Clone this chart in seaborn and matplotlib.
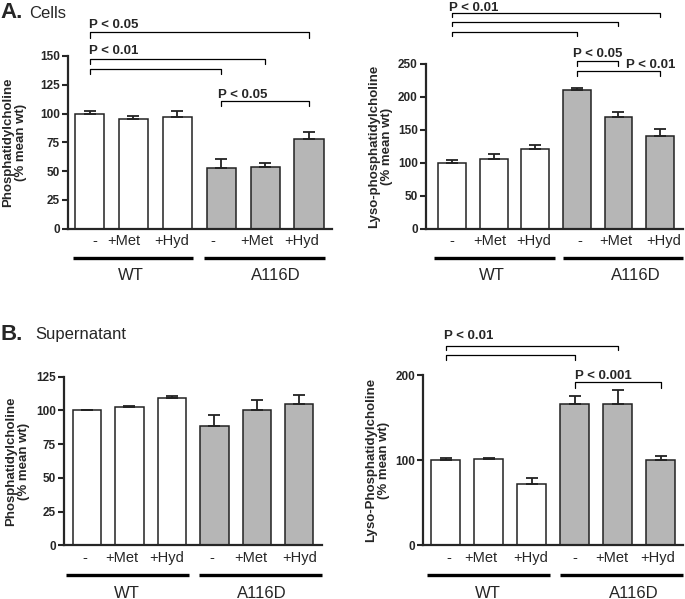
import numpy as np
import pandas as pd
import matplotlib
matplotlib.use("Agg")
import matplotlib.pyplot as plt
import matplotlib.transforms as mtrans
import seaborn as sns

# ---------------- data ----------------
genotypes = ["WT", "A116D"]
treatments = ["-", "+Met", "+Hyd"]

pc_cells = [100.0, 95.0, 97.3, 52.4, 53.3, 77.6]
pc_cells_err = [2.0, 3.2, 4.7, 8.1, 3.5, 6.7]

lpc_cells = [100.0, 105.5, 121.0, 210.5, 170.0, 140.7]
lpc_cells_err = [4.0, 8.0, 5.5, 3.5, 7.6, 11.1]

pc_sup = [100.0, 102.3, 109.4, 88.2, 100.0, 104.5]
pc_sup_err = [0.0, 1.2, 1.0, 8.1, 8.0, 6.9]

lpc_sup = [100.0, 101.2, 71.8, 166.7, 166.7, 100.0]
lpc_sup_err = [3.2, 1.2, 7.0, 9.0, 15.7, 4.8]

ylabels = ["Phosphatidylcholine\n(% mean wt)",
           "Lyso-phosphatidylcholine\n(% mean wt)",
           "Phosphatidylcholine\n(% mean wt)",
           "Lyso-Phosphatidylcholine\n(% mean wt)"]

pvals_pc_cells = ["P < 0.05", "P < 0.01", "P < 0.05"]
pvals_lpc_cells = ["P < 0.01", "P < 0.05", "P < 0.01"]
pvals_pc_sup = []
pvals_lpc_sup = ["P < 0.01", "P < 0.001"]

# ---------------- style ----------------
sns.set_style("ticks")
plt.rcParams["font.family"] = ["Liberation Sans", "DejaVu Sans"]
plt.rcParams["axes.linewidth"] = 1.6

W, H = 685, 599
fig = plt.figure(figsize=(W / 100, H / 100), dpi=100)
top_px = mtrans.Affine2D().scale(1, -1).translate(0, H)

bar_colors = {"WT": "white", "A116D": "#b6b6b6"}
conditions = [f"{g} {t}" for g in genotypes for t in treatments]
geno_col = [g for g in genotypes for _ in treatments]


def make_ax(left, right, top, bottom):
    return fig.add_axes([left / W, 1 - bottom / H, (right - left) / W, (bottom - top) / H])


def panel(ax, values, errs, ylim, yticks, xlim, ylabel, label_x,
          tick_pos, group_spans, group_lab_x, line_y, grp_lab_y,
          brackets, ptexts, pvals):
    df = pd.DataFrame({"condition": conditions, "value": values, "genotype": geno_col})
    sns.barplot(data=df, x="condition", y="value", hue="genotype", order=conditions,
                hue_order=genotypes, palette=bar_colors, dodge=False, width=0.67,
                edgecolor="#222222", linewidth=1.1, errorbar=None, legend=False, ax=ax)
    pos = np.arange(len(values))
    ax.errorbar(pos, values, yerr=[np.zeros(len(values)), errs], fmt="none",
                ecolor="#222222", elinewidth=1.3, capsize=4.2, capthick=1.3, zorder=1)
    ax.set_xlim(*xlim)
    ax.set_ylim(*ylim)
    ax.set_yticks(yticks)
    ax.set_yticklabels([str(v) for v in yticks], fontsize=8.5, fontweight="bold")
    ax.set_xticks(tick_pos)
    ax.set_xticklabels(treatments * 2, fontsize=10.5)
    ax.tick_params(axis="x", length=0, pad=4)
    ax.tick_params(axis="y", length=4, width=1.5, direction="out", pad=2)
    ax.set_xlabel("")
    ax.set_ylabel(ylabel, fontsize=9.5, fontweight="bold", linespacing=1.1)
    ax.yaxis.set_label_coords(label_x, 0.5)
    sns.despine(ax=ax)

    tr = mtrans.blended_transform_factory(ax.transData, top_px)
    for (x0, x1), gx, g in zip(group_spans, group_lab_x, genotypes):
        ax.plot([x0, x1], [line_y, line_y], color="black", lw=2.4,
                transform=tr, clip_on=False, solid_capstyle="butt")
        ax.text(gx, grp_lab_y, g, transform=tr, ha="center", va="center", fontsize=12)

    for (i, j, ytop, ylow) in brackets:
        ax.plot([i, i, j, j], [ylow, ytop, ytop, ylow], color="black", lw=0.9,
                clip_on=False)
    for (tx, ty), txt in zip(ptexts, pvals):
        ax.text(tx, ty, txt, ha="left", va="baseline", fontsize=9.5,
                fontweight="bold", clip_on=False)


# Panel A left
ax1 = make_ax(68, 332, 56, 228.7)
panel(ax1, pc_cells, pc_cells_err, (0, 150), [0, 25, 50, 75, 100, 125, 150],
      (-0.49, 5.52), ylabels[0], -0.155,
      [0.12, 0.79, 1.87, 2.80, 3.80, 4.84],
      [(-0.38, 2.35), (2.61, 5.36)], [0.95, 4.25], 257.7, 276,
      [(0, 5, 170.6, 166.0), (0, 4, 147.0, 143.0), (0, 3, 138.7, 134.4), (3, 5, 111.0, 106.6)],
      [(-0.02, 174.1), (-0.02, 151.8), (2.92, 113.8)], pvals_pc_cells)

# Panel A right
ax2 = make_ax(426, 683, 64, 228.7)
panel(ax2, lpc_cells, lpc_cells_err, (0, 250), [0, 50, 100, 150, 200, 250],
      (-0.625, 5.55), ylabels[1], -0.13,
      [0.0, 0.91, 1.97, 3.06, 3.94, 5.08],
      [(-0.425, 2.476), (2.668, 5.553)], [0.95, 4.42], 257.7, 276,
      [(0, 5, 327.8, 320.8), (0, 4, 314.0, 307.0), (0, 3, 299.0, 292.0),
       (3, 4, 254.5, 247.3), (3, 5, 239.3, 231.3)],
      [(-0.07, 331.2), (2.9, 261.0), (4.18, 243.4)], pvals_lpc_cells)

# Panel B left
ax3 = make_ax(64.3, 321.7, 376.7, 545.3)
panel(ax3, pc_sup, pc_sup_err, (0, 125), [0, 25, 50, 75, 100, 125],
      (-0.535, 5.53), ylabels[2], -0.135,
      [-0.04, 0.81, 1.88, 2.94, 3.86, 5.02],
      [(-0.502, 2.409), (2.637, 5.527)], [0.935, 4.11], 575.3, 593,
      [], [], pvals_pc_sup)

# Panel B right
ax4 = make_ax(423.3, 683, 375.3, 545.3)
panel(ax4, lpc_sup, lpc_sup_err, (0, 200), [0, 100, 200],
      (-0.516, 5.52), ylabels[3], -0.13,
      [0.07, 0.81, 1.97, 3.0, 3.86, 4.93],
      [(-0.423, 2.426), (2.659, 5.515)], [0.975, 4.38], 575.3, 593,
      [(0, 4, 234.8, 229.8), (0, 3, 223.5, 218.0), (3, 5, 191.8, 185.4)],
      [(-0.03, 242.4), (3.0, 196.0)], pvals_lpc_sup)

# Panel titles
fig.text(0 / W, 1 - 18.5 / H, "A.", fontsize=16, fontweight="bold", ha="left", va="baseline")
fig.text(29 / W, 1 - 18.5 / H, "Cells", fontsize=12, ha="left", va="baseline")
fig.text(0 / W, 1 - 339.5 / H, "B.", fontsize=16, fontweight="bold", ha="left", va="baseline")
fig.text(35 / W, 1 - 339.5 / H, "Supernatant", fontsize=12, ha="left", va="baseline")

fig.savefig("out.png", dpi=100)
